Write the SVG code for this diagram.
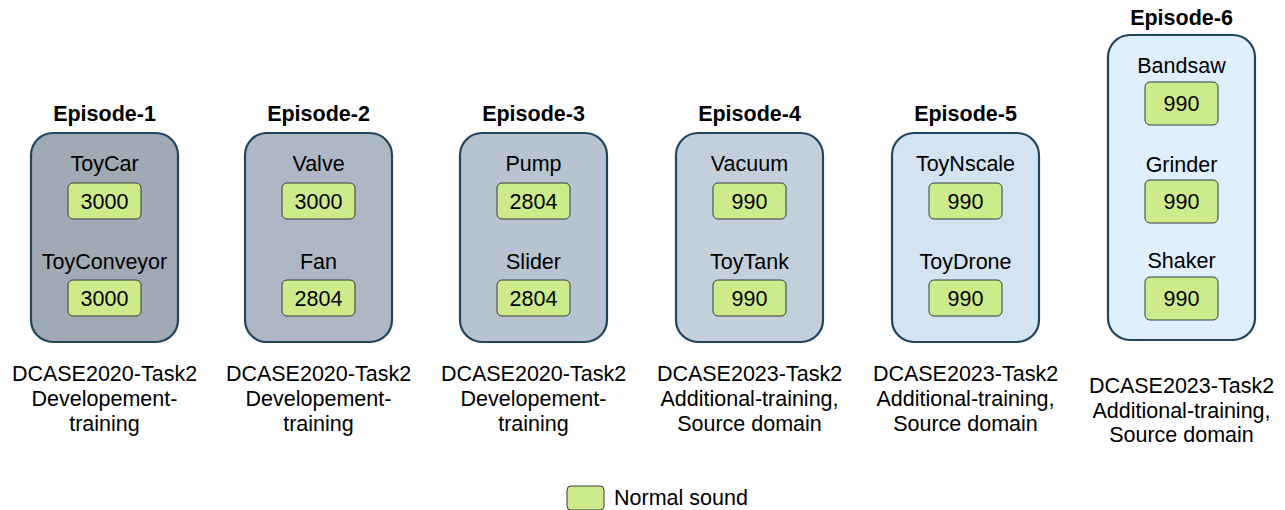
<svg xmlns="http://www.w3.org/2000/svg" width="1285" height="510" viewBox="0 0 1285 510">
<style>
text{font-family:"Liberation Sans",Arial,sans-serif;font-size:21.5px;fill:#000;text-anchor:middle}
.t{font-weight:bold}
.ep{stroke:#23445d;stroke-width:2.2}
.g{fill:#cdeb8b;stroke:#36393d;stroke-width:1}
</style>
<rect width="1285" height="510" fill="#fff"/>
<g id="episode-1">
<text class="t" x="104.5" y="121">Episode-1</text>
<rect class="ep" x="31" y="133" width="147" height="209" rx="22" fill="#a0aab4"/>
<text x="104.5" y="171">ToyCar</text>
<rect class="g" x="68" y="183" width="73" height="36" rx="5"/>
<text x="104.5" y="209">3000</text>
<text x="104.5" y="269">ToyConveyor</text>
<rect class="g" x="68" y="280" width="73" height="36" rx="5"/>
<text x="104.5" y="306">3000</text>
<text x="104.5" y="381">DCASE2020-Task2</text>
<text x="104.5" y="406">Developement-</text>
<text x="104.5" y="431">training</text>
</g>
<g id="episode-2">
<text class="t" x="318.5" y="121">Episode-2</text>
<rect class="ep" x="245" y="133" width="147" height="209" rx="22" fill="#adb8c4"/>
<text x="318.5" y="171">Valve</text>
<rect class="g" x="282" y="183" width="73" height="36" rx="5"/>
<text x="318.5" y="209">3000</text>
<text x="318.5" y="269">Fan</text>
<rect class="g" x="282" y="280" width="73" height="36" rx="5"/>
<text x="318.5" y="306">2804</text>
<text x="318.5" y="381">DCASE2020-Task2</text>
<text x="318.5" y="406">Developement-</text>
<text x="318.5" y="431">training</text>
</g>
<g id="episode-3">
<text class="t" x="533.5" y="121">Episode-3</text>
<rect class="ep" x="460" y="133" width="147" height="209" rx="22" fill="#b7c3cf"/>
<text x="533.5" y="171">Pump</text>
<rect class="g" x="497" y="183" width="73" height="36" rx="5"/>
<text x="533.5" y="209">2804</text>
<text x="533.5" y="269">Slider</text>
<rect class="g" x="497" y="280" width="73" height="36" rx="5"/>
<text x="533.5" y="306">2804</text>
<text x="533.5" y="381">DCASE2020-Task2</text>
<text x="533.5" y="406">Developement-</text>
<text x="533.5" y="431">training</text>
</g>
<g id="episode-4">
<text class="t" x="749.5" y="121">Episode-4</text>
<rect class="ep" x="676" y="133" width="147" height="209" rx="22" fill="#c3d0dc"/>
<text x="749.5" y="171">Vacuum</text>
<rect class="g" x="713" y="183" width="73" height="36" rx="5"/>
<text x="749.5" y="209">990</text>
<text x="749.5" y="269">ToyTank</text>
<rect class="g" x="713" y="280" width="73" height="36" rx="5"/>
<text x="749.5" y="306">990</text>
<text x="749.5" y="381">DCASE2023-Task2</text>
<text x="749.5" y="406">Additional-training,</text>
<text x="749.5" y="431">Source domain</text>
</g>
<g id="episode-5">
<text class="t" x="965.5" y="121">Episode-5</text>
<rect class="ep" x="892" y="133" width="147" height="209" rx="22" fill="#d4e3f1"/>
<text x="965.5" y="171">ToyNscale</text>
<rect class="g" x="929" y="183" width="73" height="36" rx="5"/>
<text x="965.5" y="209">990</text>
<text x="965.5" y="269">ToyDrone</text>
<rect class="g" x="929" y="280" width="73" height="36" rx="5"/>
<text x="965.5" y="306">990</text>
<text x="965.5" y="381">DCASE2023-Task2</text>
<text x="965.5" y="406">Additional-training,</text>
<text x="965.5" y="431">Source domain</text>
</g>
<g id="episode-6">
<text class="t" x="1181.5" y="25">Episode-6</text>
<rect class="ep" x="1108" y="35" width="147" height="305" rx="22" fill="#e0effe"/>
<text x="1181.5" y="73">Bandsaw</text>
<rect class="g" x="1145" y="82" width="73" height="43" rx="5"/>
<text x="1181.5" y="111">990</text>
<text x="1181.5" y="172">Grinder</text>
<rect class="g" x="1145" y="180" width="73" height="43" rx="5"/>
<text x="1181.5" y="209">990</text>
<text x="1181.5" y="268">Shaker</text>
<rect class="g" x="1145" y="277" width="73" height="43" rx="5"/>
<text x="1181.5" y="306">990</text>
<text x="1181.5" y="393">DCASE2023-Task2</text>
<text x="1181.5" y="418">Additional-training,</text>
<text x="1181.5" y="442">Source domain</text>
</g>
<g id="connectors"></g>
<g id="legend">
<rect class="g" x="567" y="486" width="37" height="24" rx="4"/>
<text x="614" y="505" style="text-anchor:start">Normal sound</text>
</g>
</svg>
